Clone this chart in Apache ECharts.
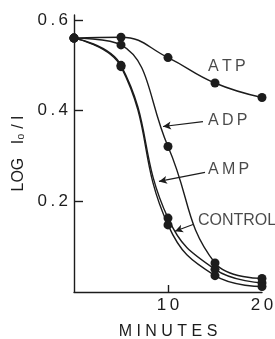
<!DOCTYPE html>
<html>
<head>
<meta charset="utf-8">
<script src="https://cdn.jsdelivr.net/npm/echarts@6/dist/echarts.min.js"></script>
<style>
  html, body { margin: 0; padding: 0; background: #fff; }
  #chart { width: 275px; height: 339px; }
</style>
</head>
<body>
<div id="chart"></div>
<script>
var minutes = [0, 5, 10, 15, 20];
var atp = [0.56, 0.562, 0.517, 0.461, 0.429];
var adp = [0.56, 0.545, 0.321, 0.064, 0.03];
var amp = [0.56, 0.50, 0.163, 0.05, 0.02];
var control = [0.56, 0.497, 0.148, 0.036, 0.012];

var yTicks = [0.2, 0.4, 0.6];
var xTicks = [10];
var xLabels = [10, 20];

// annotation text: [x, y, text]
var notes = [
    [14.26, 0.497, 'A\u2009T\u2009P'],
    [14.26, 0.378, 'A\u2009D\u2009P'],
    [14.26, 0.270, 'A\u2009M\u2009P'],
    [13.19, 0.158, 'CONTROL']
];
// arrows: [fromX, fromY, toX, toY]
var arrows = [
    [13.72, 0.376, 9.47, 0.365],
    [13.94, 0.264, 9.04, 0.244],
    [12.66, 0.149, 10.74, 0.134]
];

var ink = '#1c1c1c';
var font = 'Liberation Sans';

function pairs(ys) {
    return minutes.map(function (m, i) { return [m, ys[i]]; });
}

function curve(name, ys) {
    return {
        name: name,
        type: 'line',
        data: pairs(ys),
        smooth: 0.45,
        symbol: 'circle',
        symbolSize: 9,
        lineStyle: { color: ink, width: 1.4 },
        itemStyle: { color: ink },
        animation: false
    };
}

var chart = echarts.init(document.getElementById('chart'));

var series = [
    curve('ATP', atp),
    curve('ADP', adp),
    curve('AMP', amp),
    curve('CONTROL', control),
    {
        type: 'scatter',
        data: notes.map(function (n) { return { value: [n[0], n[1]], label: { formatter: n[2] } }; }),
        symbolSize: 0,
        label: {
            show: true,
            position: 'right',
            distance: 0,
            color: ink,
            fontFamily: font,
            fontSize: 16
        },
        silent: true,
        animation: false
    },
    {
        type: 'line',
        data: [],
        markLine: {
            silent: true,
            symbol: ['none', 'arrow'],
            symbolSize: [6, 8],
            label: { show: false },
            lineStyle: { color: ink, width: 1.2, type: 'solid' },
            data: arrows.map(function (a) {
                return [{ coord: [a[0], a[1]] }, { coord: [a[2], a[3]] }];
            })
        },
        animation: false
    }
];

var option = {
    backgroundColor: '#fff',
    animation: false,
    grid: { left: 74, right: 13, top: 15, bottom: 47, containLabel: false, outerBoundsMode: 'none' },
    xAxis: {
        type: 'value',
        min: 0,
        max: 20,
        name: 'M I N U T E S',
        nameLocation: 'middle',
        nameGap: 32,
        nameTextStyle: { color: ink, fontFamily: font, fontSize: 16 },
        axisLine: { lineStyle: { color: ink, width: 1.4 } },
        axisTick: { show: true, inside: true, length: 7, customValues: xTicks, lineStyle: { color: ink, width: 1.4 } },
        axisLabel: {
            customValues: xLabels, color: ink, fontFamily: font, fontSize: 17, margin: 5,
            formatter: function (v) { return String(v).split('').join('\u2009'); }
        },
        splitLine: { show: false }
    },
    yAxis: {
        type: 'value',
        min: 0,
        max: 0.611,
        name: 'LOG   I\u2080 / I',
        nameLocation: 'middle',
        nameRotate: 90,
        nameGap: 46,
        nameTextStyle: { color: ink, fontFamily: font, fontSize: 16 },
        axisLine: { show: true, lineStyle: { color: ink, width: 1.4 } },
        axisTick: { show: true, inside: true, length: 9, customValues: yTicks, lineStyle: { color: ink, width: 1.4 } },
        axisLabel: {
            customValues: yTicks, color: ink, fontFamily: font, fontSize: 17, margin: 6,
            formatter: function (v) { return v.toFixed(1).split('').join('\u2009'); }
        },
        splitLine: { show: false }
    },
    series: series
};

chart.setOption(option);
</script>
</body>
</html>
